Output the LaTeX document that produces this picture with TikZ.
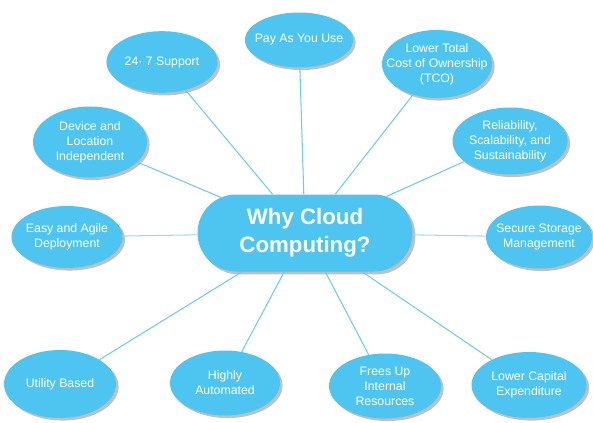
\documentclass[tikz,border=0pt]{standalone}
\usepackage{fontspec}
\setmainfont{Liberation Sans}
\usetikzlibrary{shapes.geometric,shapes.misc,shadows}

\tikzset{
    reason/.style={ellipse, fill=cloud_blue, text=white, align=center,
        inner sep=-0.5cm, minimum width=3.35cm, minimum height=2.0cm,
        font=\fontsize{10.5}{12.8}\selectfont,
        drop shadow={shadow xshift=2.2pt, shadow yshift=-2.2pt, fill=black!45, opacity=.55}},
    hub/.style={rounded rectangle, fill=cloud_blue, text=white, align=center,
        minimum width=6.45cm, minimum height=2.31cm, inner sep=0pt,
        font=\fontsize{19}{24}\bfseries,
        drop shadow={shadow xshift=2.5pt, shadow yshift=-2.5pt, fill=black!45, opacity=.55}},
    spoke/.style={draw=cloud_line, line width=0.9pt},
}

\begin{document}
\begin{tikzpicture}[x=0.03cm, y=-0.03cm]
    \definecolor{cloud_blue}{HTML}{4EC5F1}
    \definecolor{cloud_line}{HTML}{6CCBEF}
    %\draw[help lines, step=50] (0,0) grid (593,422);
    \useasboundingbox (0,0) rectangle (593,422);

    \node[hub] (why) at (305,233) {Why Cloud\\Computing?};

    % top row
    \node[reason, minimum width=3.33cm, minimum height=1.85cm] (support) at (162,62) {24· 7 Support};
    \node[reason, minimum width=3.24cm, minimum height=1.65cm] (payuse) at (299,40) {Pay As You Use};
    \node[reason, minimum width=3.30cm, minimum height=2.04cm] (tco) at (437,64) {Lower Total\\Cost of Ownership\\(TCO)};

    % sides
    \node[reason, minimum width=3.42cm, minimum height=2.13cm] (device) at (90,142) {Device and\\Location\\Independent};
    \node[reason, minimum width=3.45cm, minimum height=2.01cm] (reliable) at (510,141) {Reliability,\\Scalability, and\\Sustainability};
    \node[reason, minimum width=3.33cm, minimum height=1.86cm] (agile) at (67,237) {Easy and Agile\\Deployment};
    \node[reason, minimum width=3.18cm, minimum height=1.89cm] (storage) at (539,237) {Secure Storage\\Management};

    % bottom row
    \node[reason, minimum width=3.36cm, minimum height=2.04cm] (utility) at (60,384) {Utility Based};
    \node[reason, minimum width=3.30cm, minimum height=1.95cm] (automated) at (225,383) {Highly\\Automated};
    \node[reason, minimum width=3.36cm, minimum height=1.95cm] (frees) at (385,386) {Frees Up\\Internal\\Resources};
    \node[reason, minimum width=3.45cm, minimum height=1.98cm] (capex) at (529,385) {Lower Capital\\Expenditure};

    \foreach \n in {support,payuse,tco,device,reliable,utility,automated,frees,capex}
        \draw[spoke] (why) -- (\n);
    \draw[spoke, draw=cloud_line!70] (why) -- (agile);
    \draw[spoke, draw=cloud_line!70] (why) -- (storage);

\end{tikzpicture}
\end{document}
